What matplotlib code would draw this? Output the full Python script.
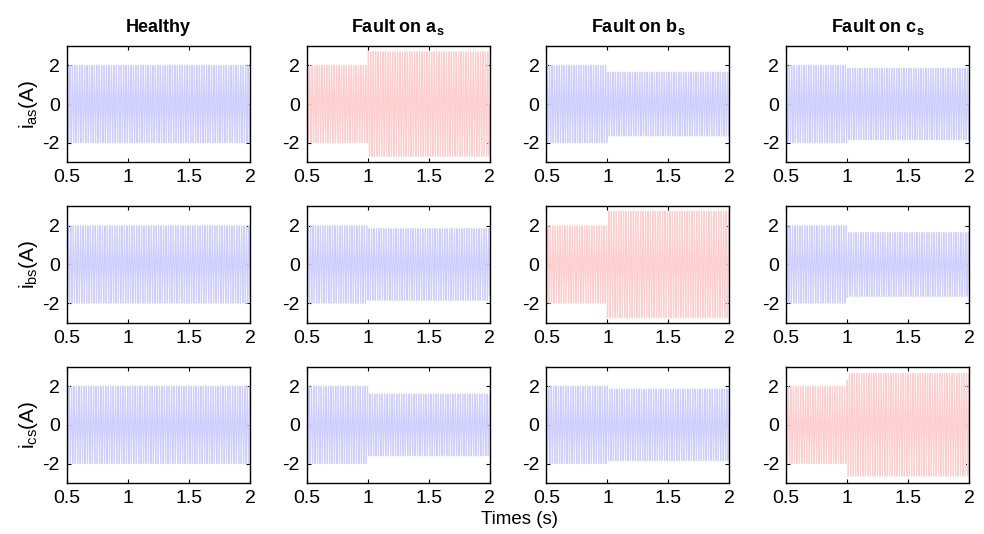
import numpy as np
import matplotlib
matplotlib.use("Agg")
import matplotlib.pyplot as plt

plt.rcParams["font.family"] = ["Liberation Sans", "DejaVu Sans"]
plt.rcParams["mathtext.fontset"] = "custom"
plt.rcParams["mathtext.rm"] = "Liberation Sans"
plt.rcParams["mathtext.it"] = "Liberation Sans:italic"
plt.rcParams["mathtext.bf"] = "Liberation Sans:bold"
plt.rcParams["axes.unicode_minus"] = False

# signal parameters
t_start = 0.5
t_fault = 1.0
t_end = 2.0
freq = 50.0
amp_pre = 2.0

case_titles = ["Healthy", r"Fault on a$_\mathbf{s}$", r"Fault on b$_\mathbf{s}$", r"Fault on c$_\mathbf{s}$"]
phase_labels = [r"i$_\mathrm{as}$(A)", r"i$_\mathrm{bs}$(A)", r"i$_\mathrm{cs}$(A)"]
phase_shift_deg = [0, -120, 120]

# amplitude after t_fault for [ias, ibs, ics]
amp_healthy = [2.0, 2.0, 2.0]
amp_fault_a = [2.7, 1.85, 1.6]
amp_fault_b = [1.65, 2.75, 1.85]
amp_fault_c = [1.85, 1.65, 2.65]
post_amps = [amp_healthy, amp_fault_a, amp_fault_b, amp_fault_c]
faulty_phase = [None, 0, 1, 2]

t = np.linspace(t_start, t_end, 15001)

fig, axes = plt.subplots(3, 4, figsize=(9.84, 5.34), dpi=100)
fig.subplots_adjust(left=0.068, right=0.985, top=0.914, bottom=0.0955,
                    wspace=0.31, hspace=0.38)

for col in range(4):
    for row in range(3):
        ax = axes[row, col]
        amp = np.where(t < t_fault, amp_pre, post_amps[col][row])
        y = amp * np.sin(2 * np.pi * freq * t + np.deg2rad(phase_shift_deg[row]))
        if faulty_phase[col] == row:
            color = "#ffcdcd"
        else:
            color = "#cdcdff"
        ax.plot(t, y, color=color, lw=0.8)
        ax.set_xlim(0.5, 2)
        ax.set_ylim(-3, 3)
        ax.set_xticks([0.5, 1, 1.5, 2])
        ax.set_xticklabels(["0.5", "1", "1.5", "2"])
        ax.set_yticks([-2, 0, 2])
        ax.tick_params(direction="in", top=True, right=True, labelsize=14,
                       length=3, width=0.8, pad=5)
        for sp in ax.spines.values():
            sp.set_linewidth(1.0)
        if col == 0:
            ax.set_ylabel(phase_labels[row], fontsize=15, labelpad=2)
    axes[0, col].set_title(case_titles[col], fontsize=13, fontweight="bold", pad=10)

fig.text(0.528, 0.018, "Times (s)", ha="center", fontsize=13.5)

plt.savefig("out.png", dpi=100)
plt.close()
